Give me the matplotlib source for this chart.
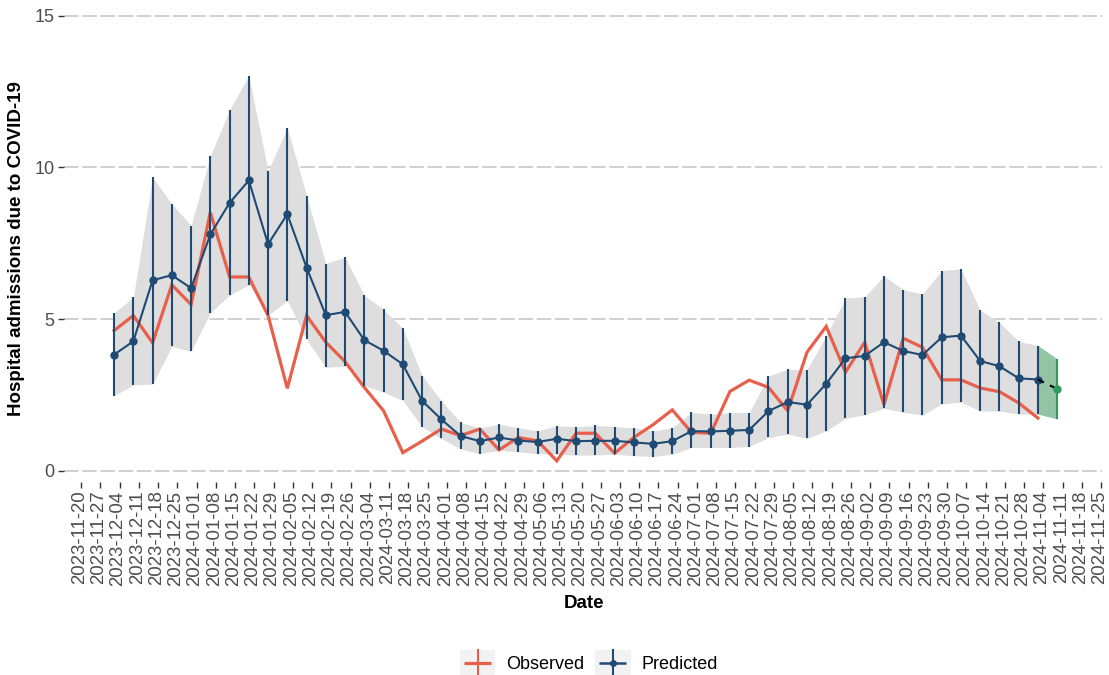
import numpy as np
import matplotlib
matplotlib.use("Agg")
import matplotlib.pyplot as plt
import matplotlib.dates as mdates
import matplotlib.transforms as mtransforms
from matplotlib.legend_handler import HandlerBase
from matplotlib.lines import Line2D
from matplotlib.patches import Rectangle

plt.rcParams['font.family'] = ['Liberation Sans', 'DejaVu Sans']

# ---------------- data ----------------
start_date = np.datetime64('2023-12-02')
n_weeks = 49
dates = start_date + np.arange(n_weeks) * np.timedelta64(7, 'D')

observed = [4.62, 5.12, 4.22, 6.13, 5.48, 8.52, 6.39, 6.39, 5.12, 2.72,
            5.12, 4.24, 3.60, 2.75, 1.98, 0.60, 0.98, 1.38, 1.16, 1.38,
            0.69, 1.10, 0.99, 0.33, 1.24, 1.24, 0.58, 1.10, 1.52, 2.01,
            1.27, 1.24, 2.62, 2.99, 2.75, 1.98, 3.91, 4.76, 3.25, 4.24,
            2.18, 4.37, 4.07, 3.00, 3.00, 2.73, 2.61, 2.24, 1.74]

predicted = [3.83, 4.27, 6.28, 6.45, 6.02, 7.79, 8.83, 9.57, 7.47, 8.46,
             6.70, 5.13, 5.24, 4.31, 3.96, 3.51, 2.31, 1.70, 1.15, 0.98,
             1.10, 1.00, 0.95, 1.06, 0.98, 0.99, 0.99, 0.94, 0.89, 0.98,
             1.31, 1.30, 1.32, 1.35, 1.97, 2.27, 2.18, 2.87, 3.71, 3.79,
             4.24, 3.95, 3.82, 4.40, 4.46, 3.62, 3.45, 3.05, 3.01]

pred_upper = [5.21, 5.72, 9.67, 8.80, 8.08, 10.38, 11.90, 13.02, 9.89, 11.31,
              9.07, 6.83, 7.04, 5.79, 5.32, 4.70, 3.14, 2.31, 1.60, 1.41,
              1.54, 1.42, 1.32, 1.49, 1.45, 1.50, 1.46, 1.42, 1.32, 1.42,
              1.93, 1.87, 1.92, 1.92, 3.13, 3.35, 3.33, 4.46, 5.69, 5.74,
              6.42, 5.97, 5.83, 6.60, 6.66, 5.29, 4.89, 4.27, 4.13]

pred_lower = [2.48, 2.83, 2.86, 4.10, 3.94, 5.21, 5.79, 6.13, 5.13, 5.61,
              4.33, 3.41, 3.46, 2.81, 2.59, 2.32, 1.45, 1.07, 0.72, 0.57,
              0.68, 0.63, 0.57, 0.55, 0.52, 0.52, 0.55, 0.50, 0.47, 0.55,
              0.77, 0.77, 0.77, 0.80, 1.10, 1.21, 1.07, 1.32, 1.73, 1.85,
              2.06, 1.93, 1.84, 2.21, 2.26, 1.97, 1.97, 1.87, 1.87]

forecast_dates = np.array(['2024-11-02', '2024-11-09'], dtype='datetime64[D]')
forecast_mean = [3.01, 2.70]
forecast_upper = [4.13, 3.69]
forecast_lower = [1.87, 1.71]

tick_dates = np.datetime64('2023-11-20') + np.arange(54) * np.timedelta64(7, 'D')
y_ticks = [0, 5, 10, 15]

# ---------------- style ----------------
RED = '#E8604C'
BLUE = '#1F4A73'
GREY_RIBBON = '#DEDEDE'
GREEN_FILL = '#93C5A5'
GREEN = '#2E9B5A'

W, H, DPI = 1109, 675, 100
fig = plt.figure(figsize=(W / DPI, H / DPI), dpi=DPI)
left_px, right_px, top_px, bot_px = 63.5, 1102, 9.6, 481.5
ax = fig.add_axes([left_px / W, 1 - bot_px / H, (right_px - left_px) / W, (bot_px - top_px) / H])

# gridlines
for yv in y_ticks:
    ax.axhline(yv, color='#C3C3C3', lw=1.1, linestyle=(0, (9.5, 2.4)), zorder=0, clip_on=False)

ax.fill_between(dates, pred_lower, pred_upper, color=GREY_RIBBON, lw=0, zorder=1)
ax.fill_between(forecast_dates, forecast_lower, forecast_upper, color=GREEN_FILL, lw=0, zorder=1)

ax.plot(dates, observed, color=RED, lw=2.3, zorder=3, solid_joinstyle='miter')
ax.vlines(dates, pred_lower, pred_upper, color=BLUE, lw=1.5, zorder=4)
ax.plot(dates, predicted, color=BLUE, lw=1.5, zorder=5)
ax.plot(dates, predicted, 'o', color=BLUE, ms=5, zorder=6)

ax.vlines(forecast_dates[1:], forecast_lower[1:], forecast_upper[1:], color=GREEN, lw=1.5, zorder=4)
ax.plot(forecast_dates, forecast_mean, color='black', lw=1.6, linestyle=(0, (3, 3)), zorder=7)
ax.plot(forecast_dates[1:], forecast_mean[1:], 'o', color=GREEN, ms=5, zorder=8)

# axes limits
x0 = mdates.date2num(dates[0]) - 18.4
x1 = mdates.date2num(forecast_dates[-1]) + 16.3
ax.set_xlim(x0, x1)
ax.set_ylim(-0.35, 15.2)

ax.set_xticks(mdates.date2num(tick_dates))
ax.set_xticklabels([str(d) for d in tick_dates], rotation=90, ha='center', va='top')
ax.set_yticks(y_ticks)
ax.set_yticklabels([str(v) for v in y_ticks])
ax.tick_params(axis='both', colors='#333333', labelcolor='#4D4D4D', labelsize=13,
               length=4, width=1.0, pad=2.5)
ax.tick_params(axis='x', labelsize=13.4)

shift = mtransforms.ScaledTranslation(-1.5 / DPI, 0, fig.dpi_scale_trans)
for lbl in ax.get_xticklabels():
    lbl.set_transform(lbl.get_transform() + shift)

for s in ax.spines.values():
    s.set_visible(False)
ax.set_facecolor('white')

fig.text(17 / W, 1 - 249 / H, 'Hospital admissions due to COVID-19', rotation=90,
         ha='center', va='center', fontsize=13.5, fontweight='bold', color='black')
fig.text(584 / W, 1 - 604 / H, 'Date', ha='center', va='center', fontsize=13.5,
         fontweight='bold', color='black')


# ---------------- legend ----------------
class KeyHandler(HandlerBase):
    def __init__(self, color, point=False):
        super().__init__()
        self.color = color
        self.point = point

    def create_artists(self, legend, orig_handle, xdescent, ydescent, width, height, fontsize, trans):
        x0, y0 = -xdescent, -ydescent
        bg = Rectangle((x0, y0), width, height, facecolor='#F2F2F2', edgecolor='none', transform=trans)
        cy = y0 + height / 2
        cx = x0 + width / 2
        arts = [bg]
        lw = 2.3 if not self.point else 1.8
        arts.append(Line2D([x0 + 3, x0 + width - 3], [cy, cy], color=self.color, lw=lw, transform=trans,
                           solid_capstyle='butt'))
        arts.append(Line2D([cx, cx], [y0 + 2, y0 + height], color=self.color, lw=1.5, transform=trans))
        if self.point:
            arts.append(Line2D([cx], [cy], marker='o', ms=4, color=self.color, lw=0, transform=trans))
        return arts


h_obs = Line2D([], [], color=RED)
h_pred = Line2D([], [], color=BLUE)
fig.legend([h_obs, h_pred], ['Observed', 'Predicted'],
           handler_map={h_obs: KeyHandler(RED), h_pred: KeyHandler(BLUE, point=True)},
           loc='center', bbox_to_anchor=(589 / W, 1 - 663 / H), ncol=2, frameon=False,
           fontsize=13, handlelength=1.95, handleheight=1.9, handletextpad=0.6,
           columnspacing=0.6, borderpad=0, borderaxespad=0)

fig.savefig('out.png', dpi=DPI, facecolor='white')
